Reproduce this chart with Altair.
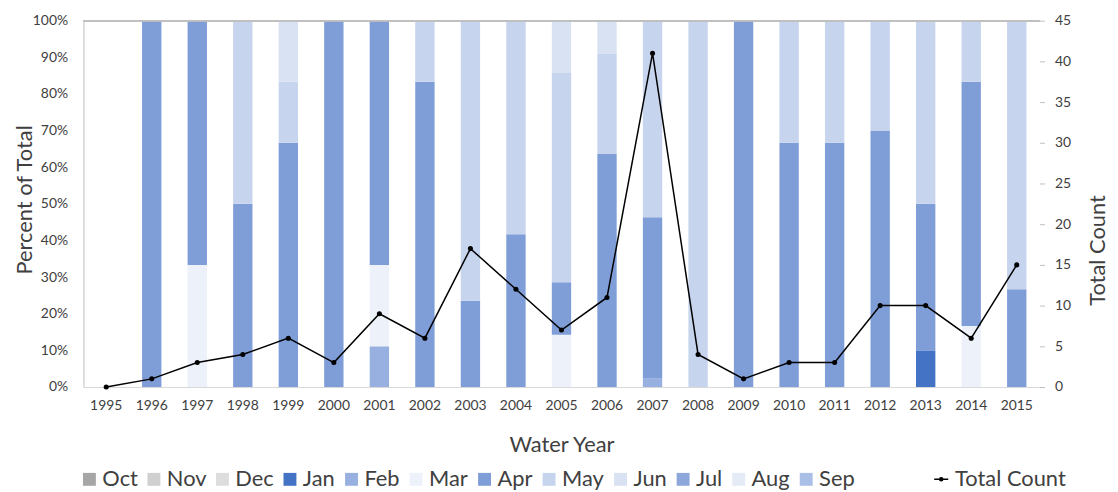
import altair as alt
import pandas as pd

years = [str(y) for y in range(1995, 2016)]
months = ["Oct", "Nov", "Dec", "Jan", "Feb", "Mar", "Apr", "May", "Jun", "Jul", "Aug", "Sep"]
month_colors = ["#A6A6A6", "#D0D0D0", "#DDDDDD", "#4472C4", "#98B0DF", "#EDF1F9",
                "#7F9ED8", "#C6D4EE", "#D9E2F3", "#8EA7DA", "#E4EAF6", "#AABFE6"]

#            1995 96 97 98 99 00 01 02 03  04 05 06 07  08 09 10 11 12 13 14 15
cnt_oct = [0, 0, 0, 0, 0, 0, 0, 0, 0, 0, 0, 0, 0, 0, 0, 0, 0, 0, 0, 0, 0]
cnt_nov = [0, 0, 0, 0, 0, 0, 0, 0, 0, 0, 0, 0, 0, 0, 0, 0, 0, 0, 0, 0, 0]
cnt_dec = [0, 0, 0, 0, 0, 0, 0, 0, 0, 0, 0, 0, 0, 0, 0, 0, 0, 0, 0, 0, 0]
cnt_jan = [0, 0, 0, 0, 0, 0, 0, 0, 0, 0, 0, 0, 0, 0, 0, 0, 0, 0, 1, 0, 0]
cnt_feb = [0, 0, 0, 0, 0, 0, 1, 0, 0, 0, 0, 0, 1, 0, 0, 0, 0, 0, 0, 0, 0]
cnt_mar = [0, 0, 1, 0, 0, 0, 2, 0, 0, 0, 1, 0, 0, 0, 0, 0, 0, 0, 0, 1, 0]
cnt_apr = [0, 1, 2, 2, 4, 3, 6, 5, 4, 5, 1, 7, 18, 0, 1, 2, 2, 7, 4, 4, 4]
cnt_may = [0, 0, 0, 2, 1, 0, 0, 1, 13, 7, 4, 3, 22, 4, 0, 1, 1, 3, 5, 1, 11]
cnt_jun = [0, 0, 0, 0, 1, 0, 0, 0, 0, 0, 1, 1, 0, 0, 0, 0, 0, 0, 0, 0, 0]
cnt_jul = [0, 0, 0, 0, 0, 0, 0, 0, 0, 0, 0, 0, 0, 0, 0, 0, 0, 0, 0, 0, 0]
cnt_aug = [0, 0, 0, 0, 0, 0, 0, 0, 0, 0, 0, 0, 0, 0, 0, 0, 0, 0, 0, 0, 0]
cnt_sep = [0, 0, 0, 0, 0, 0, 0, 0, 0, 0, 0, 0, 0, 0, 0, 0, 0, 0, 0, 0, 0]
total_count = [0, 1, 3, 4, 6, 3, 9, 6, 17, 12, 7, 11, 41, 4, 1, 3, 3, 10, 10, 6, 15]
pct_ticks = [0, 0.1, 0.2, 0.3, 0.4, 0.5, 0.6, 0.7, 0.8, 0.9, 1.0]
count_ticks = [0, 5, 10, 15, 20, 25, 30, 35, 40, 45]

month_counts = [cnt_oct, cnt_nov, cnt_dec, cnt_jan, cnt_feb, cnt_mar,
                cnt_apr, cnt_may, cnt_jun, cnt_jul, cnt_aug, cnt_sep]

rows = []
for mi, (m, vals) in enumerate(zip(months, month_counts)):
    for y, v in zip(years, vals):
        if v > 0:
            rows.append({"year": y, "month": m, "mi": mi, "count": v})
bar_df = pd.DataFrame(rows)
line_df = pd.DataFrame({"year": years, "total": total_count, "series": "Total Count"})

FONT = "Lato"
TXT = "#404040"
W, H = 963, 369
TFS = 22  # title / legend font size

xenc = alt.X(
    "year:N",
    scale=alt.Scale(domain=years, paddingInner=0.575, paddingOuter=0.2875),
    axis=alt.Axis(
        title="Water Year", labelAngle=0, labelFont=FONT, labelFontSize=14,
        labelColor=TXT, labelPadding=12, ticks=False, domainColor="#D9D9D9",
        titleFont=FONT, titleFontSize=TFS, titleFontWeight="normal", titleColor=TXT,
        titleBaseline="alphabetic", titleY=65,
    ),
)

bars = alt.Chart(bar_df).mark_bar().encode(
    x=xenc,
    y=alt.Y(
        "count:Q", stack="normalize",
        scale=alt.Scale(domain=[0, 1], nice=False),
        axis=alt.Axis(
            title="Percent of Total", format=".0%", values=pct_ticks, labelOverlap=False,
            tickCount=11,
            labelFont=FONT, labelFontSize=14, labelColor=TXT, labelPadding=16,
            ticks=False, grid=False, domainColor="#BFBFBF",
            titleFont=FONT, titleFontSize=TFS, titleFontWeight="normal", titleColor=TXT,
            titleAngle=270, titleBaseline="alphabetic", titleX=-52, titleY=180,
        ),
    ),
    color=alt.Color(
        "month:N",
        scale=alt.Scale(domain=months, range=month_colors),
        legend=alt.Legend(
            orient="none", legendX=-5, legendY=451, direction="horizontal", columns=12,
            title=None, symbolType="square", symbolSize=169, symbolStrokeWidth=0,
            labelFont=FONT, labelFontSize=TFS, labelColor=TXT, labelOffset=2,
            columnPadding=5, padding=0,
        ),
    ),
    order=alt.Order("mi:Q"),
)

line_sym = "M-1,0L1,0M0.22,0A0.22,0.22,0,1,1,-0.22,0A0.22,0.22,0,1,1,0.22,0Z"

yright = alt.Y(
    "total:Q",
    scale=alt.Scale(domain=[0, 45], nice=False),
    axis=alt.Axis(
        orient="right", title="Total Count", values=count_ticks, labelOverlap=False,
        labelFont=FONT, labelFontSize=14, labelColor=TXT, labelPadding=10,
        ticks=True, tickSize=5, tickColor="#BFBFBF", domain=False, grid=False,
        titleFont=FONT, titleFontSize=TFS, titleFontWeight="normal", titleColor=TXT,
        titleAngle=270, titleBaseline="alphabetic", titleX=65, titleY=231,
    ),
)

line = alt.Chart(line_df).mark_line(strokeWidth=1.5).encode(
    x=alt.X("year:N"),
    y=yright,
    stroke=alt.Stroke(
        "series:N",
        scale=alt.Scale(domain=["Total Count"], range=["#000000"]),
        legend=alt.Legend(
            orient="none", legendX=853, legendY=451, title=None,
            symbolType=line_sym, symbolSize=200, symbolStrokeWidth=1.5,
            symbolFillColor="#000000", symbolStrokeColor="#000000",
            labelFont=FONT, labelFontSize=TFS, labelColor=TXT, labelOffset=3, padding=0,
        ),
    ),
)

points = alt.Chart(line_df).mark_point(filled=True, color="#000000", size=26, opacity=1).encode(
    x=alt.X("year:N"),
    y=alt.Y("total:Q"),
)

top_rule = alt.Chart(line_df).mark_rule(color="#BFBFBF", strokeWidth=1).encode(
    y=alt.datum(45)
)

right = alt.layer(top_rule, line, points)

chart = alt.layer(bars, right).resolve_scale(y="independent").properties(
    width=W, height=H,
    autosize=alt.AutoSizeParams(type="none"),
    padding={"left": 76, "top": 11, "right": 71, "bottom": 104},
).configure_view(stroke=None)

chart.save("out.html", embed_options={"renderer": "svg", "actions": False})
